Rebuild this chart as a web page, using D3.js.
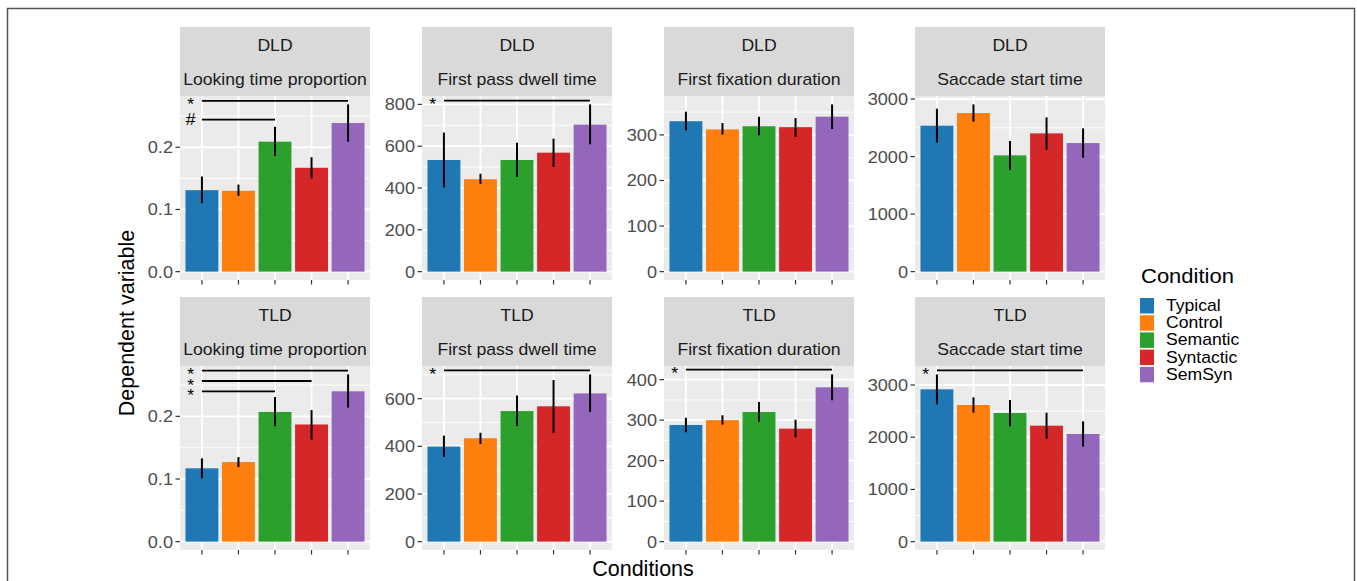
<!DOCTYPE html>
<html>
<head>
<meta charset="utf-8">
<script src="https://cdn.jsdelivr.net/npm/d3@7"></script>
<style>
  body { margin: 0; background: #fff; }
  text { font-family: "Liberation Sans", Arial, Helvetica, sans-serif; }
</style>
</head>
<body>
<svg id="chart" width="1357" height="581"></svg>
<script>
// data (means and error-bar ends)
var conditions = ['Typical', 'Control', 'Semantic', 'Syntactic', 'SemSyn'];
var colors = ['#1F77B4', '#FF7F0E', '#2CA02C', '#D62728', '#9467BD'];
var groups = ['DLD', 'TLD'];
var measures = ['Looking time proportion', 'First pass dwell time', 'First fixation duration', 'Saccade start time'];

var dldMeans = [[0.131, 0.130, 0.209, 0.167, 0.239], [534, 442, 534, 569, 703], [330, 312, 319, 317, 340], [2536, 2756, 2021, 2403, 2235]];
var dldLow   = [[0.110, 0.122, 0.186, 0.150, 0.209], [402, 420, 453, 501, 609], [310, 301, 299, 296, 313], [2241, 2606, 1772, 2119, 1980]];
var dldHigh  = [[0.153, 0.140, 0.233, 0.184, 0.269], [665, 468, 616, 636, 800], [351, 326, 340, 337, 367], [2832, 2907, 2270, 2681, 2490]];

var tldMeans = [[0.117, 0.127, 0.207, 0.187, 0.240], [399, 434, 548, 568, 622], [288, 300, 320, 279, 381], [2917, 2617, 2464, 2221, 2062]];
var tldLow   = [[0.101, 0.119, 0.184, 0.163, 0.214], [355, 410, 485, 457, 544], [270, 289, 296, 257, 349], [2630, 2470, 2209, 1972, 1819]];
var tldHigh  = [[0.133, 0.135, 0.231, 0.210, 0.267], [445, 457, 613, 678, 702], [306, 312, 345, 301, 413], [3204, 2764, 2713, 2470, 2304]];

// significance brackets: [measure, from, to, label, y]
var dldSig = [[0, 0, 4, '*', 0.2745], [0, 0, 2, '#', 0.2445], [1, 0, 4, '*', 818]];
var tldSig = [[0, 0, 4, '*', 0.2729], [0, 0, 3, '*', 0.2564], [0, 0, 2, '*', 0.240], [1, 0, 4, '*', 719], [2, 0, 4, '*', 424.7], [3, 0, 4, '*', 3281]];

var tickSteps = [0.1, 200, 100, 1000];
var tickFormats = ['.1f', 'd', 'd', 'd'];

var svg = d3.select('#chart');
var SX = 1.1; // the original is rendered slightly wide

// layout
var panelLeft = [180, 422, 664, 915];
var panelW = 190;
var stripTop = [27, 297];
var stripH = 69;
var plotH = 184;

function wideText(parent, x, y, str, size, anchor, color) {
    var g = parent.append('g').attr('transform', 'translate(' + x + ',' + y + ') scale(' + SX + ',1)');
    return g.append('text')
        .attr('text-anchor', anchor || 'start')
        .attr('font-size', size)
        .attr('fill', color || '#000')
        .text(str);
}

// frame round the figure
svg.append('rect')
    .attr('x', 7.5).attr('y', 8.5).attr('width', 1347).attr('height', 600)
    .attr('fill', 'none').attr('stroke', '#555').attr('stroke-width', 1.5);

var tables = [
    { means: dldMeans, low: dldLow, high: dldHigh, sig: dldSig },
    { means: tldMeans, low: tldLow, high: tldHigh, sig: tldSig }
];

groups.forEach(function (grp, r) {
    var t = tables[r];
    measures.forEach(function (meas, m) {
        var x0 = panelLeft[m];
        var top = stripTop[r] + stripH;
        var g = svg.append('g');

        // strip
        g.append('rect').attr('x', x0).attr('y', stripTop[r]).attr('width', panelW).attr('height', stripH).attr('fill', '#D9D9D9');
        wideText(g, x0 + panelW / 2, stripTop[r] + 24, grp, 16, 'middle', '#1A1A1A');
        wideText(g, x0 + panelW / 2, stripTop[r] + 58, meas, 16, 'middle', '#1A1A1A');

        // scales
        var M = d3.max(t.high[m]);
        var y = d3.scaleLinear().domain([-0.05 * M, 1.05 * M]).range([top + plotH, top]);
        var x = d3.scalePoint().domain(conditions).range([x0, x0 + panelW]).padding(0.6);
        var step = x.step();

        // background and grid
        g.append('rect').attr('x', x0).attr('y', top).attr('width', panelW).attr('height', plotH).attr('fill', '#EBEBEB');
        var s = tickSteps[m];
        var major = d3.range(0, 1.05 * M + 1e-9, s);
        var minor = d3.range(s / 2, 1.05 * M, s);
        g.selectAll('.minor').data(minor).join('line')
            .attr('x1', x0).attr('x2', x0 + panelW)
            .attr('y1', function (d) { return y(d); }).attr('y2', function (d) { return y(d); })
            .attr('stroke', '#fff').attr('stroke-width', 0.9);
        g.selectAll('.major').data(major).join('line')
            .attr('x1', x0).attr('x2', x0 + panelW)
            .attr('y1', function (d) { return y(d); }).attr('y2', function (d) { return y(d); })
            .attr('stroke', '#fff').attr('stroke-width', 1.8);
        g.selectAll('.vgrid').data(conditions).join('line')
            .attr('x1', function (d) { return x(d); }).attr('x2', function (d) { return x(d); })
            .attr('y1', top).attr('y2', top + plotH)
            .attr('stroke', '#fff').attr('stroke-width', 1.8);

        // bars
        var rows = conditions.map(function (c, i) {
            return { c: c, mean: t.means[m][i], lo: t.low[m][i], hi: t.high[m][i], col: colors[i] };
        });
        g.selectAll('.bar').data(rows).join('rect')
            .attr('x', function (d) { return x(d.c) - step * 0.45; })
            .attr('width', step * 0.9)
            .attr('y', function (d) { return y(d.mean); })
            .attr('height', function (d) { return y(0) - y(d.mean); })
            .attr('fill', function (d) { return d.col; });
        g.selectAll('.err').data(rows).join('line')
            .attr('x1', function (d) { return x(d.c); }).attr('x2', function (d) { return x(d.c); })
            .attr('y1', function (d) { return y(d.lo); }).attr('y2', function (d) { return y(d.hi); })
            .attr('stroke', '#000').attr('stroke-width', 2);

        // significance brackets
        t.sig.filter(function (a) { return a[0] === m; }).forEach(function (a) {
            var xa = x(conditions[a[1]]), xb = x(conditions[a[2]]), yy = y(a[4]);
            g.append('line').attr('x1', xa).attr('x2', xb).attr('y1', yy).attr('y2', yy)
                .attr('stroke', '#000').attr('stroke-width', 1.8);
            var off = a[3] === '*' ? 9.5 : 5.5;
            wideText(g, xa - step * 0.31, yy + off, a[3], 16, 'middle', '#000');
        });

        // y axis
        major.forEach(function (v) {
            g.append('line').attr('x1', x0 - 4.5).attr('x2', x0).attr('y1', y(v)).attr('y2', y(v))
                .attr('stroke', '#333').attr('stroke-width', 1.2);
            wideText(g, x0 - 7, y(v) + 6, d3.format(tickFormats[m])(v), 16.5, 'end', '#4D4D4D');
        });
        // x ticks, no labels
        conditions.forEach(function (c) {
            g.append('line').attr('x1', x(c)).attr('x2', x(c)).attr('y1', top + plotH).attr('y2', top + plotH + 4.5)
                .attr('stroke', '#333').attr('stroke-width', 1.2);
        });
    });
});

// axis titles
svg.append('text').attr('x', 643).attr('y', 576).attr('text-anchor', 'middle')
    .attr('font-size', 21.5).attr('fill', '#000').text('Conditions');
svg.append('text').attr('transform', 'translate(134,323) rotate(-90)').attr('text-anchor', 'middle')
    .attr('font-size', 21.5).attr('fill', '#000').text('Dependent variable');

// legend
var lg = svg.append('g');
wideText(lg, 1141, 283, 'Condition', 20, 'start', '#000');
conditions.forEach(function (c, i) {
    var yy = 298 + i * 17.2;
    lg.append('rect').attr('x', 1140).attr('y', yy).attr('width', 14).attr('height', 15.5).attr('fill', colors[i]);
    wideText(lg, 1166, yy + 13, c, 16, 'start', '#000');
});
</script>
</body>
</html>
